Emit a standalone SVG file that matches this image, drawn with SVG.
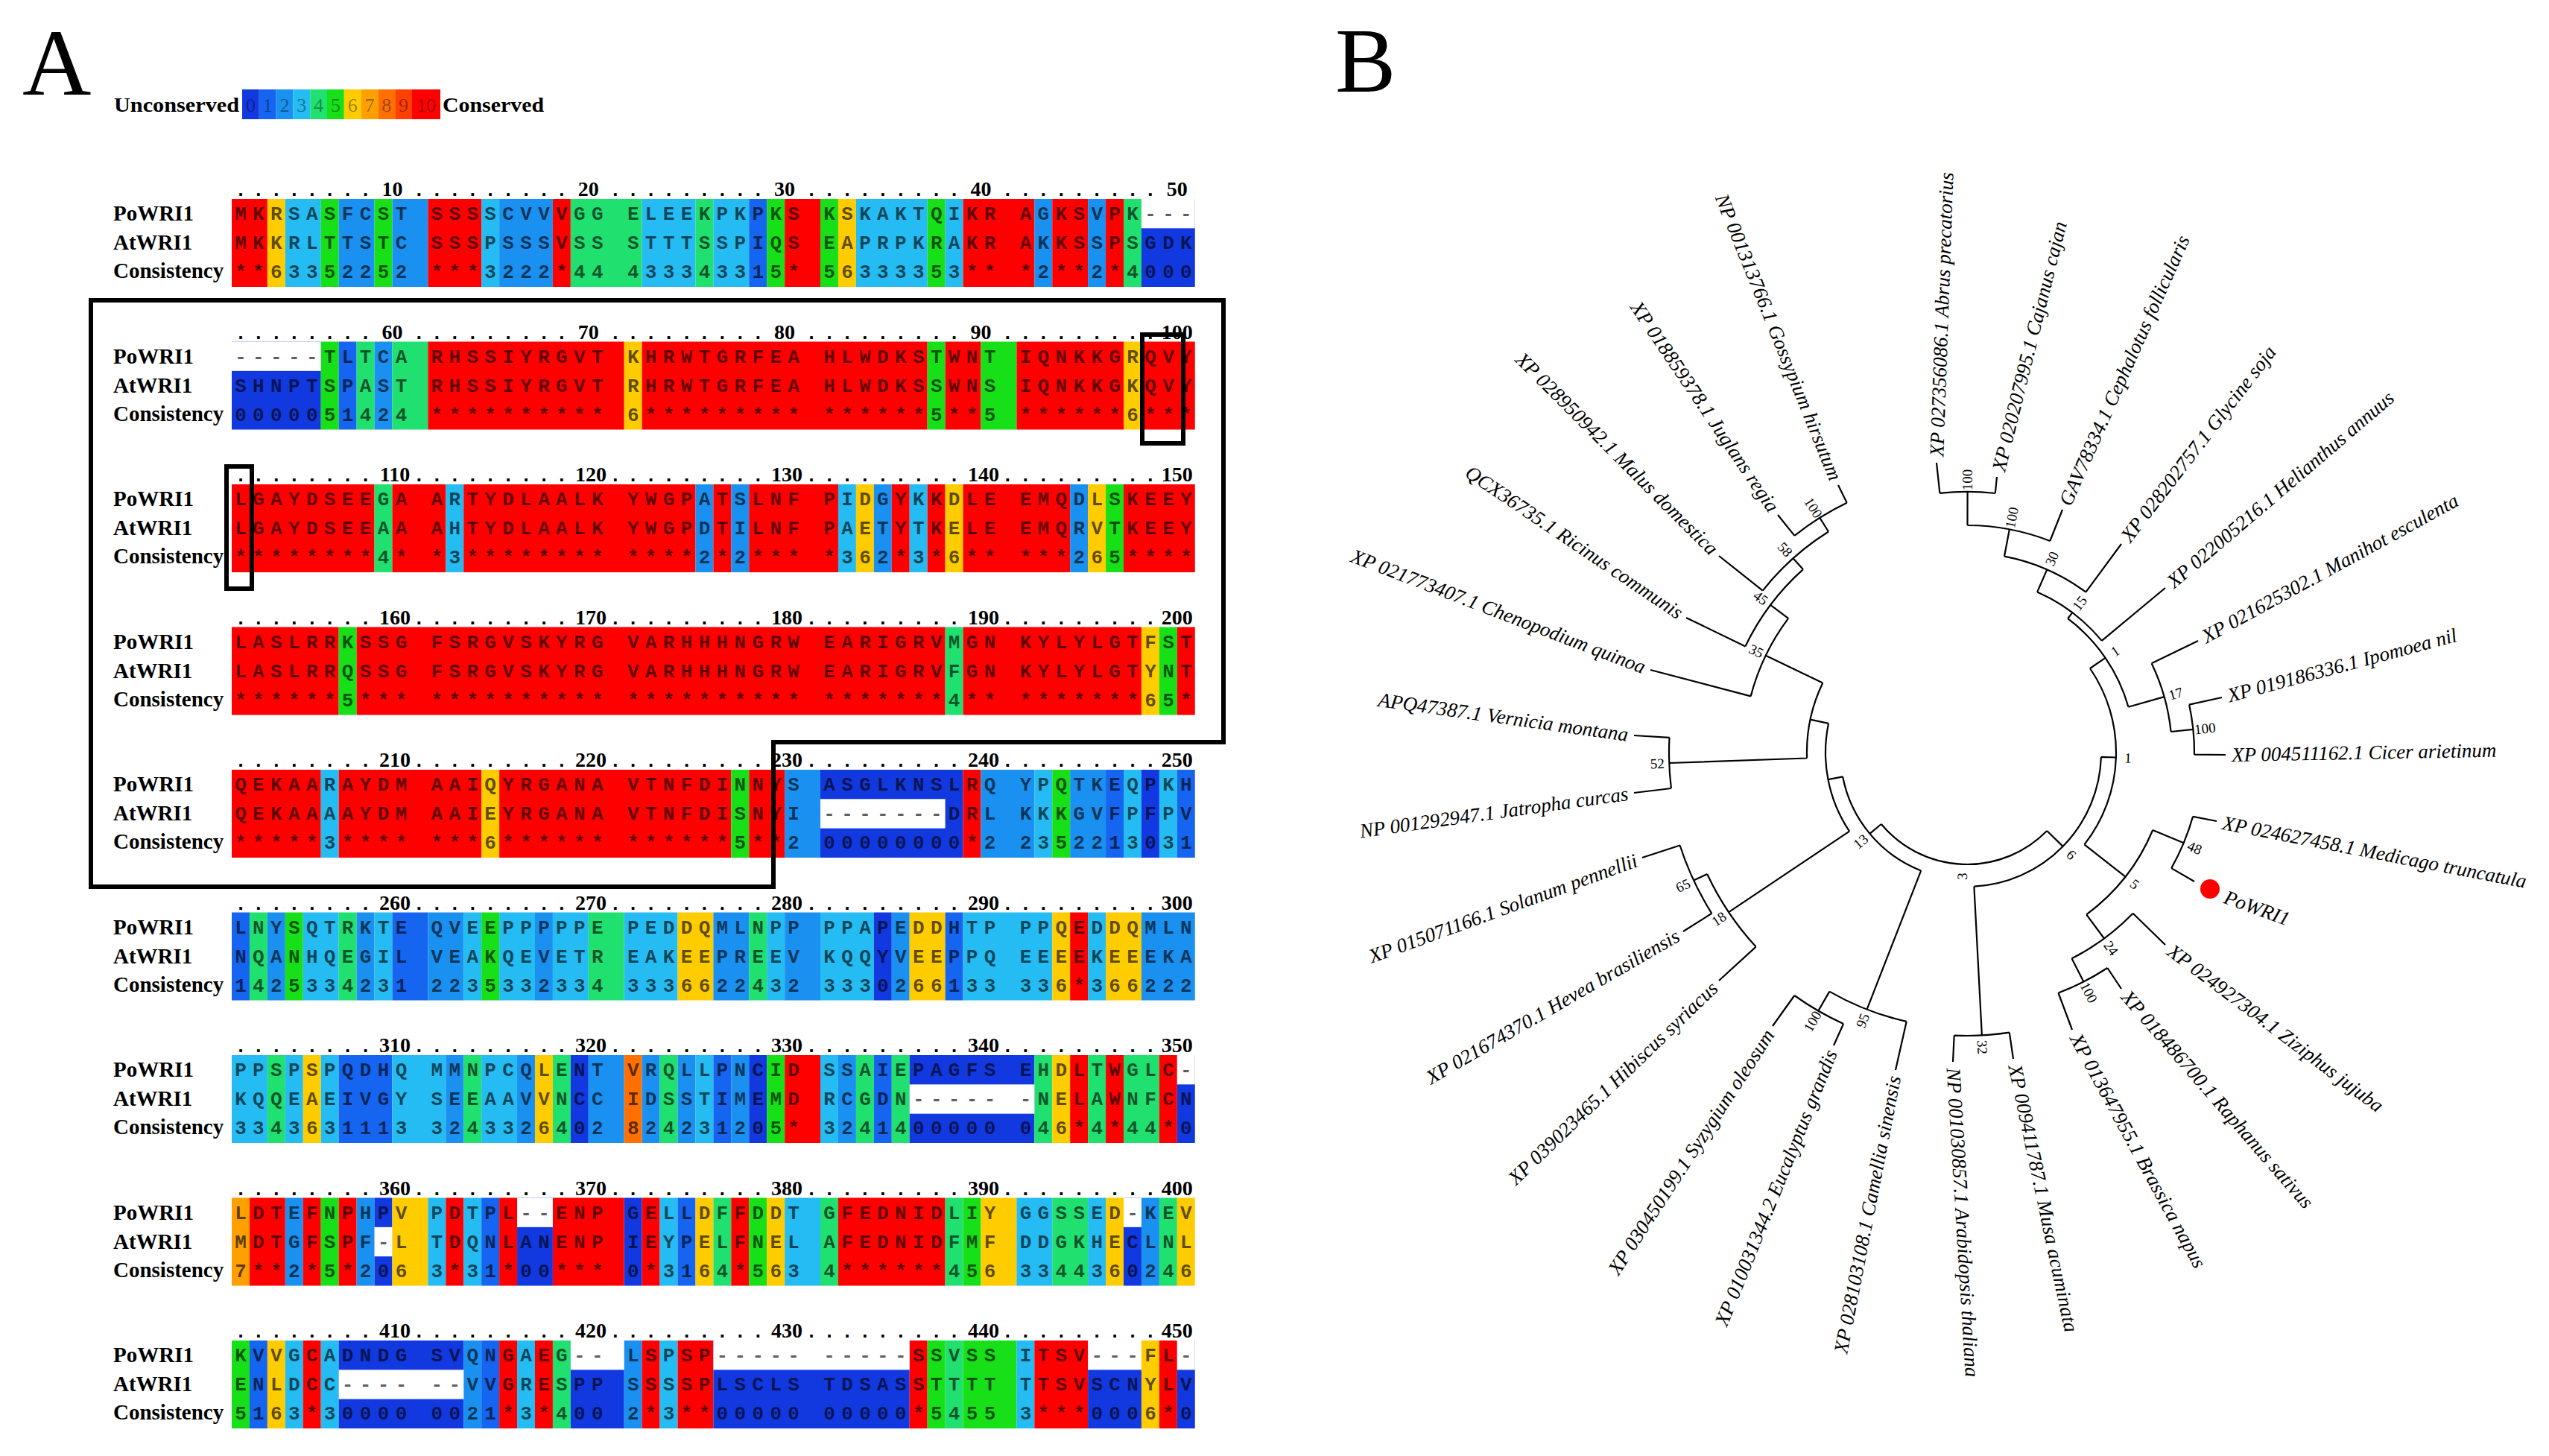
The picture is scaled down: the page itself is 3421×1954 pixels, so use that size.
<svg xmlns="http://www.w3.org/2000/svg" width="3421" height="1954" viewBox="0 0 3421 1954">
<style>
.c0{fill:#1238E0}.c1{fill:#1565F0}.c2{fill:#1A90F0}.c3{fill:#24BCF2}.c4{fill:#20E070}.c5{fill:#18E018}.c6{fill:#FFCC00}.c7{fill:#FFA000}.c8{fill:#FF7000}.c9{fill:#FF4000}.c10{fill:#FF0000}.w{fill:#FFFFFF}
.seq{font-family:"Liberation Mono",monospace;font-weight:bold;font-size:26px;letter-spacing:8.34px;fill:#000;fill-opacity:0.64}
.dots{font-family:"Liberation Mono",monospace;font-weight:bold;font-size:26px;letter-spacing:8.34px;fill:#000}
.lab{font-family:"Liberation Serif",serif;font-weight:bold;font-size:29px;fill:#000}
.num{font-family:"Liberation Serif",serif;font-weight:bold;font-size:28px;text-anchor:middle;fill:#000}
.big{font-family:"Liberation Serif",serif;fill:#000}
.leg{font-family:"Liberation Serif",serif;font-weight:bold;font-size:28px;fill:#000}
.legd{font-family:"Liberation Serif",serif;font-size:26px;text-anchor:middle;fill:#000;fill-opacity:0.4}
.tip{font-family:"Liberation Serif",serif;font-style:italic;font-size:27px;fill:#000}
.tl{text-anchor:end}
.sup{font-family:"Liberation Serif",serif;font-size:19px;text-anchor:middle;fill:#000}
.br{fill:none;stroke:#000;stroke-width:2.2}
.box{fill:none;stroke:#000;stroke-width:6}
</style>
<rect width="3421" height="1954" fill="#fff"/>

<g id="panel-label-A"><text class="big" x="30" y="127" font-size="128">A</text></g>
<g id="panel-label-B"><text class="big" x="1792" y="123" font-size="122">B</text></g>

<g id="legend">
<text class="leg" x="153" y="150" textLength="168" lengthAdjust="spacingAndGlyphs">Unconserved</text>
<rect class="c0" x="325" y="120" width="22.8" height="40"/>
<rect class="c1" x="347.8" y="120" width="22.8" height="40"/>
<rect class="c2" x="370.6" y="120" width="22.8" height="40"/>
<rect class="c3" x="393.4" y="120" width="22.8" height="40"/>
<rect class="c4" x="416.2" y="120" width="22.8" height="40"/>
<rect class="c5" x="439" y="120" width="22.8" height="40"/>
<rect class="c6" x="461.8" y="120" width="22.8" height="40"/>
<rect class="c7" x="484.6" y="120" width="22.8" height="40"/>
<rect class="c8" x="507.4" y="120" width="22.8" height="40"/>
<rect class="c9" x="530.2" y="120" width="22.8" height="40"/>
<rect class="c10" x="553" y="120" width="38" height="40"/>
<text class="legd" x="336.4" y="150">0</text><text class="legd" x="359.2" y="150">1</text><text class="legd" x="382" y="150">2</text><text class="legd" x="404.8" y="150">3</text><text class="legd" x="427.6" y="150">4</text><text class="legd" x="450.4" y="150">5</text><text class="legd" x="473.2" y="150">6</text><text class="legd" x="496" y="150">7</text><text class="legd" x="518.8" y="150">8</text><text class="legd" x="541.6" y="150">9</text><text class="legd" x="572" y="150">10</text>
<text class="leg" x="594" y="150" textLength="136" lengthAdjust="spacingAndGlyphs">Conserved</text>
</g>

<g id="block-1" transform="translate(0,267)">
<g transform="translate(311,0) scale(23.94,1)">
<rect class="c10" x="0" width="2" height="118"/><rect class="c6" x="2" width="1" height="118"/><rect class="c3" x="3" width="2" height="118"/><rect class="c5" x="5" width="1" height="118"/><rect class="c2" x="6" width="2" height="118"/><rect class="c5" x="8" width="1" height="118"/><rect class="c2" x="9" width="2" height="118"/><rect class="c10" x="11" width="3" height="118"/><rect class="c3" x="14" width="1" height="118"/><rect class="c2" x="15" width="3" height="118"/><rect class="c10" x="18" width="1" height="118"/><rect class="c4" x="19" width="4" height="118"/><rect class="c3" x="23" width="3" height="118"/><rect class="c4" x="26" width="1" height="118"/><rect class="c3" x="27" width="2" height="118"/><rect class="c1" x="29" width="1" height="118"/><rect class="c5" x="30" width="1" height="118"/><rect class="c10" x="31" width="2" height="118"/><rect class="c5" x="33" width="1" height="118"/><rect class="c6" x="34" width="1" height="118"/><rect class="c3" x="35" width="4" height="118"/><rect class="c5" x="39" width="1" height="118"/><rect class="c3" x="40" width="1" height="118"/><rect class="c10" x="41" width="4" height="118"/><rect class="c2" x="45" width="1" height="118"/><rect class="c10" x="46" width="2" height="118"/><rect class="c2" x="48" width="1" height="118"/><rect class="c10" x="49" width="1" height="118"/><rect class="c4" x="50" width="1" height="118"/><rect class="c0" x="51" width="3" height="118"/>
<rect class="w" x="51" y="0" width="3" height="39.33"/>
</g>
<text class="dots" x="315.17" y="-4">........</text><text class="dots" x="554.57" y="-4">.........</text><text class="dots" x="817.91" y="-4">.........</text><text class="dots" x="1081.25" y="-4">.........</text><text class="dots" x="1344.59" y="-4">.........</text>
<text class="num" x="526.5" y="-4">10</text><text class="num" x="789.8" y="-4">20</text><text class="num" x="1053.1" y="-4">30</text><text class="num" x="1316.5" y="-4">40</text><text class="num" x="1579.8" y="-4">50</text>
<text class="lab" x="152" y="29">PoWRI1</text><text class="lab" x="152" y="68">AtWRI1</text><text class="lab" x="152" y="106">Consistency</text>
<text class="seq" x="315.17" y="28">MKRSASFCST SSSSCVVVGG ELEEKPKPKS KSKAKTQIKR AGKSVPK---</text>
<text class="seq" x="315.17" y="67">MKKRLTTSTC SSSPSSSVSS STTTSSPIQS EAPRPKRAKR AKKSSPSGDK</text>
<text class="seq" x="315.17" y="106">**63352252 ***3222*44 433343315* 56333353** *2**2*4000</text>
</g>

<g id="block-2" transform="translate(0,458.5)">
<g transform="translate(311,0) scale(23.94,1)">
<rect class="c0" x="0" width="5" height="118"/><rect class="c5" x="5" width="1" height="118"/><rect class="c1" x="6" width="1" height="118"/><rect class="c4" x="7" width="1" height="118"/><rect class="c2" x="8" width="1" height="118"/><rect class="c4" x="9" width="2" height="118"/><rect class="c10" x="11" width="11" height="118"/><rect class="c6" x="22" width="1" height="118"/><rect class="c10" x="23" width="16" height="118"/><rect class="c5" x="39" width="1" height="118"/><rect class="c10" x="40" width="2" height="118"/><rect class="c5" x="42" width="2" height="118"/><rect class="c10" x="44" width="6" height="118"/><rect class="c6" x="50" width="1" height="118"/><rect class="c10" x="51" width="3" height="118"/>
<rect class="w" x="0" y="0" width="5" height="39.33"/>
</g>
<text class="dots" x="315.17" y="-4">........</text><text class="dots" x="554.57" y="-4">.........</text><text class="dots" x="817.91" y="-4">.........</text><text class="dots" x="1081.25" y="-4">.........</text><text class="dots" x="1344.59" y="-4">.........</text>
<text class="num" x="526.5" y="-4">60</text><text class="num" x="789.8" y="-4">70</text><text class="num" x="1053.1" y="-4">80</text><text class="num" x="1316.5" y="-4">90</text><text class="num" x="1579.8" y="-4">100</text>
<text class="lab" x="152" y="29">PoWRI1</text><text class="lab" x="152" y="68">AtWRI1</text><text class="lab" x="152" y="106">Consistency</text>
<text class="seq" x="315.17" y="28">-----TLTCA RHSSIYRGVT KHRWTGRFEA HLWDKSTWNT IQNKKGRQVY</text>
<text class="seq" x="315.17" y="67">SHNPTSPAST RHSSIYRGVT RHRWTGRFEA HLWDKSSWNS IQNKKGKQVY</text>
<text class="seq" x="315.17" y="106">0000051424 ********** 6********* ******5**5 ******6***</text>
</g>

<g id="block-3" transform="translate(0,650)">
<g transform="translate(311,0) scale(23.94,1)">
<rect class="c10" x="0" width="8" height="118"/><rect class="c4" x="8" width="1" height="118"/><rect class="c10" x="9" width="3" height="118"/><rect class="c3" x="12" width="1" height="118"/><rect class="c10" x="13" width="13" height="118"/><rect class="c2" x="26" width="1" height="118"/><rect class="c10" x="27" width="1" height="118"/><rect class="c2" x="28" width="1" height="118"/><rect class="c10" x="29" width="5" height="118"/><rect class="c3" x="34" width="1" height="118"/><rect class="c6" x="35" width="1" height="118"/><rect class="c2" x="36" width="1" height="118"/><rect class="c10" x="37" width="1" height="118"/><rect class="c3" x="38" width="1" height="118"/><rect class="c10" x="39" width="1" height="118"/><rect class="c6" x="40" width="1" height="118"/><rect class="c10" x="41" width="6" height="118"/><rect class="c2" x="47" width="1" height="118"/><rect class="c6" x="48" width="1" height="118"/><rect class="c5" x="49" width="1" height="118"/><rect class="c10" x="50" width="4" height="118"/>
</g>
<text class="dots" x="315.17" y="-4">........</text><text class="dots" x="554.57" y="-4">.........</text><text class="dots" x="817.91" y="-4">.........</text><text class="dots" x="1081.25" y="-4">.........</text><text class="dots" x="1344.59" y="-4">.........</text>
<text class="num" x="530" y="-4">110</text><text class="num" x="793" y="-4">120</text><text class="num" x="1056" y="-4">130</text><text class="num" x="1320" y="-4">140</text><text class="num" x="1579.8" y="-4">150</text>
<text class="lab" x="152" y="29">PoWRI1</text><text class="lab" x="152" y="68">AtWRI1</text><text class="lab" x="152" y="106">Consistency</text>
<text class="seq" x="315.17" y="28">LGAYDSEEGA ARTYDLAALK YWGPATSLNF PIDGYKKDLE EMQDLSKEEY</text>
<text class="seq" x="315.17" y="67">LGAYDSEEAA AHTYDLAALK YWGPDTILNF PAETYTKELE EMQRVTKEEY</text>
<text class="seq" x="315.17" y="106">********4* *3******** ****2*2*** *362*3*6** ***265****</text>
</g>

<g id="block-4" transform="translate(0,841.5)">
<g transform="translate(311,0) scale(23.94,1)">
<rect class="c10" x="0" width="6" height="118"/><rect class="c5" x="6" width="1" height="118"/><rect class="c10" x="7" width="33" height="118"/><rect class="c4" x="40" width="1" height="118"/><rect class="c10" x="41" width="10" height="118"/><rect class="c6" x="51" width="1" height="118"/><rect class="c5" x="52" width="1" height="118"/><rect class="c10" x="53" width="1" height="118"/>
</g>
<text class="dots" x="315.17" y="-4">........</text><text class="dots" x="554.57" y="-4">.........</text><text class="dots" x="817.91" y="-4">.........</text><text class="dots" x="1081.25" y="-4">.........</text><text class="dots" x="1344.59" y="-4">.........</text>
<text class="num" x="530" y="-4">160</text><text class="num" x="793" y="-4">170</text><text class="num" x="1056" y="-4">180</text><text class="num" x="1320" y="-4">190</text><text class="num" x="1579.8" y="-4">200</text>
<text class="lab" x="152" y="29">PoWRI1</text><text class="lab" x="152" y="68">AtWRI1</text><text class="lab" x="152" y="106">Consistency</text>
<text class="seq" x="315.17" y="28">LASLRRKSSG FSRGVSKYRG VARHHHNGRW EARIGRVMGN KYLYLGTFST</text>
<text class="seq" x="315.17" y="67">LASLRRQSSG FSRGVSKYRG VARHHHNGRW EARIGRVFGN KYLYLGTYNT</text>
<text class="seq" x="315.17" y="106">******5*** ********** ********** *******4** *******65*</text>
</g>

<g id="block-5" transform="translate(0,1033)">
<g transform="translate(311,0) scale(23.94,1)">
<rect class="c10" x="0" width="5" height="118"/><rect class="c3" x="5" width="1" height="118"/><rect class="c10" x="6" width="8" height="118"/><rect class="c6" x="14" width="1" height="118"/><rect class="c10" x="15" width="13" height="118"/><rect class="c5" x="28" width="1" height="118"/><rect class="c10" x="29" width="2" height="118"/><rect class="c2" x="31" width="2" height="118"/><rect class="c0" x="33" width="8" height="118"/><rect class="c10" x="41" width="1" height="118"/><rect class="c2" x="42" width="3" height="118"/><rect class="c3" x="45" width="1" height="118"/><rect class="c5" x="46" width="1" height="118"/><rect class="c2" x="47" width="2" height="118"/><rect class="c1" x="49" width="1" height="118"/><rect class="c3" x="50" width="1" height="118"/><rect class="c0" x="51" width="1" height="118"/><rect class="c3" x="52" width="1" height="118"/><rect class="c1" x="53" width="1" height="118"/>
<rect class="w" x="33" y="39.33" width="7" height="39.33"/>
</g>
<text class="dots" x="315.17" y="-4">........</text><text class="dots" x="554.57" y="-4">.........</text><text class="dots" x="817.91" y="-4">.........</text><text class="dots" x="1081.25" y="-4">.........</text><text class="dots" x="1344.59" y="-4">.........</text>
<text class="num" x="530" y="-4">210</text><text class="num" x="793" y="-4">220</text><text class="num" x="1056" y="-4">230</text><text class="num" x="1320" y="-4">240</text><text class="num" x="1579.8" y="-4">250</text>
<text class="lab" x="152" y="29">PoWRI1</text><text class="lab" x="152" y="68">AtWRI1</text><text class="lab" x="152" y="106">Consistency</text>
<text class="seq" x="315.17" y="28">QEKAARAYDM AAIQYRGANA VTNFDINNYS ASGLKNSLRQ YPQTKEQPKH</text>
<text class="seq" x="315.17" y="67">QEKAAAAYDM AAIEYRGANA VTNFDISNYI -------DRL KKKGVFPFPV</text>
<text class="seq" x="315.17" y="106">*****3**** ***6****** ******5**2 00000000*2 2352213031</text>
</g>

<g id="block-6" transform="translate(0,1224.5)">
<g transform="translate(311,0) scale(23.94,1)">
<rect class="c1" x="0" width="1" height="118"/><rect class="c4" x="1" width="1" height="118"/><rect class="c2" x="2" width="1" height="118"/><rect class="c5" x="3" width="1" height="118"/><rect class="c3" x="4" width="2" height="118"/><rect class="c4" x="6" width="1" height="118"/><rect class="c2" x="7" width="1" height="118"/><rect class="c3" x="8" width="1" height="118"/><rect class="c1" x="9" width="2" height="118"/><rect class="c2" x="11" width="2" height="118"/><rect class="c3" x="13" width="1" height="118"/><rect class="c5" x="14" width="1" height="118"/><rect class="c3" x="15" width="2" height="118"/><rect class="c2" x="17" width="1" height="118"/><rect class="c3" x="18" width="2" height="118"/><rect class="c4" x="20" width="2" height="118"/><rect class="c3" x="22" width="3" height="118"/><rect class="c6" x="25" width="2" height="118"/><rect class="c2" x="27" width="2" height="118"/><rect class="c4" x="29" width="1" height="118"/><rect class="c3" x="30" width="1" height="118"/><rect class="c2" x="31" width="2" height="118"/><rect class="c3" x="33" width="3" height="118"/><rect class="c0" x="36" width="1" height="118"/><rect class="c2" x="37" width="1" height="118"/><rect class="c6" x="38" width="2" height="118"/><rect class="c1" x="40" width="1" height="118"/><rect class="c3" x="41" width="5" height="118"/><rect class="c6" x="46" width="1" height="118"/><rect class="c10" x="47" width="1" height="118"/><rect class="c3" x="48" width="1" height="118"/><rect class="c6" x="49" width="2" height="118"/><rect class="c2" x="51" width="3" height="118"/>
</g>
<text class="dots" x="315.17" y="-4">........</text><text class="dots" x="554.57" y="-4">.........</text><text class="dots" x="817.91" y="-4">.........</text><text class="dots" x="1081.25" y="-4">.........</text><text class="dots" x="1344.59" y="-4">.........</text>
<text class="num" x="530" y="-4">260</text><text class="num" x="793" y="-4">270</text><text class="num" x="1056" y="-4">280</text><text class="num" x="1320" y="-4">290</text><text class="num" x="1579.8" y="-4">300</text>
<text class="lab" x="152" y="29">PoWRI1</text><text class="lab" x="152" y="68">AtWRI1</text><text class="lab" x="152" y="106">Consistency</text>
<text class="seq" x="315.17" y="28">LNYSQTRKTE QVEEPPPPPE PEDDQMLNPP PPAPEDDHTP PPQEDDQMLN</text>
<text class="seq" x="315.17" y="67">NQANHQEGIL VEAKQEVETR EAKEEPREEV KQQYVEEPPQ EEEEKEEEKA</text>
<text class="seq" x="315.17" y="106">1425334231 2235332334 3336622432 3330266133 336*366222</text>
</g>

<g id="block-7" transform="translate(0,1416)">
<g transform="translate(311,0) scale(23.94,1)">
<rect class="c3" x="0" width="2" height="118"/><rect class="c4" x="2" width="1" height="118"/><rect class="c3" x="3" width="1" height="118"/><rect class="c6" x="4" width="1" height="118"/><rect class="c3" x="5" width="1" height="118"/><rect class="c1" x="6" width="3" height="118"/><rect class="c3" x="9" width="3" height="118"/><rect class="c2" x="12" width="1" height="118"/><rect class="c4" x="13" width="1" height="118"/><rect class="c3" x="14" width="2" height="118"/><rect class="c2" x="16" width="1" height="118"/><rect class="c6" x="17" width="1" height="118"/><rect class="c4" x="18" width="1" height="118"/><rect class="c0" x="19" width="1" height="118"/><rect class="c2" x="20" width="2" height="118"/><rect class="c8" x="22" width="1" height="118"/><rect class="c2" x="23" width="1" height="118"/><rect class="c4" x="24" width="1" height="118"/><rect class="c2" x="25" width="1" height="118"/><rect class="c3" x="26" width="1" height="118"/><rect class="c1" x="27" width="1" height="118"/><rect class="c2" x="28" width="1" height="118"/><rect class="c0" x="29" width="1" height="118"/><rect class="c5" x="30" width="1" height="118"/><rect class="c10" x="31" width="2" height="118"/><rect class="c3" x="33" width="1" height="118"/><rect class="c2" x="34" width="1" height="118"/><rect class="c4" x="35" width="1" height="118"/><rect class="c1" x="36" width="1" height="118"/><rect class="c4" x="37" width="1" height="118"/><rect class="c0" x="38" width="7" height="118"/><rect class="c4" x="45" width="1" height="118"/><rect class="c6" x="46" width="1" height="118"/><rect class="c10" x="47" width="1" height="118"/><rect class="c4" x="48" width="1" height="118"/><rect class="c10" x="49" width="1" height="118"/><rect class="c4" x="50" width="2" height="118"/><rect class="c10" x="52" width="1" height="118"/><rect class="c0" x="53" width="1" height="118"/>
<rect class="w" x="38" y="39.33" width="7" height="39.33"/><rect class="w" x="53" y="0" width="1" height="39.33"/>
</g>
<text class="dots" x="315.17" y="-4">........</text><text class="dots" x="554.57" y="-4">.........</text><text class="dots" x="817.91" y="-4">.........</text><text class="dots" x="1081.25" y="-4">.........</text><text class="dots" x="1344.59" y="-4">.........</text>
<text class="num" x="530" y="-4">310</text><text class="num" x="793" y="-4">320</text><text class="num" x="1056" y="-4">330</text><text class="num" x="1320" y="-4">340</text><text class="num" x="1579.8" y="-4">350</text>
<text class="lab" x="152" y="29">PoWRI1</text><text class="lab" x="152" y="68">AtWRI1</text><text class="lab" x="152" y="106">Consistency</text>
<text class="seq" x="315.17" y="28">PPSPSPQDHQ MMNPCQLENT VRQLLPNCID SSAIEPAGFS EHDLTWGLC-</text>
<text class="seq" x="315.17" y="67">KQQEAEIVGY SEEAAVVNCC IDSSTIMEMD RCGDN----- -NELAWNFCN</text>
<text class="seq" x="315.17" y="106">3343631113 3243326402 824231205* 3241400000 046*4*44*0</text>
</g>

<g id="block-8" transform="translate(0,1607.5)">
<g transform="translate(311,0) scale(23.94,1)">
<rect class="c7" x="0" width="1" height="118"/><rect class="c10" x="1" width="2" height="118"/><rect class="c2" x="3" width="1" height="118"/><rect class="c10" x="4" width="1" height="118"/><rect class="c5" x="5" width="1" height="118"/><rect class="c10" x="6" width="1" height="118"/><rect class="c2" x="7" width="1" height="118"/><rect class="c0" x="8" width="1" height="118"/><rect class="c6" x="9" width="2" height="118"/><rect class="c3" x="11" width="1" height="118"/><rect class="c10" x="12" width="1" height="118"/><rect class="c3" x="13" width="1" height="118"/><rect class="c1" x="14" width="1" height="118"/><rect class="c10" x="15" width="1" height="118"/><rect class="c0" x="16" width="2" height="118"/><rect class="c10" x="18" width="4" height="118"/><rect class="c0" x="22" width="1" height="118"/><rect class="c10" x="23" width="1" height="118"/><rect class="c3" x="24" width="1" height="118"/><rect class="c1" x="25" width="1" height="118"/><rect class="c6" x="26" width="1" height="118"/><rect class="c4" x="27" width="1" height="118"/><rect class="c10" x="28" width="1" height="118"/><rect class="c5" x="29" width="1" height="118"/><rect class="c6" x="30" width="1" height="118"/><rect class="c3" x="31" width="2" height="118"/><rect class="c4" x="33" width="1" height="118"/><rect class="c10" x="34" width="6" height="118"/><rect class="c4" x="40" width="1" height="118"/><rect class="c5" x="41" width="1" height="118"/><rect class="c6" x="42" width="2" height="118"/><rect class="c3" x="44" width="2" height="118"/><rect class="c4" x="46" width="2" height="118"/><rect class="c3" x="48" width="1" height="118"/><rect class="c6" x="49" width="1" height="118"/><rect class="c0" x="50" width="1" height="118"/><rect class="c2" x="51" width="1" height="118"/><rect class="c4" x="52" width="1" height="118"/><rect class="c6" x="53" width="1" height="118"/>
<rect class="w" x="8" y="39.33" width="1" height="39.33"/><rect class="w" x="16" y="0" width="2" height="39.33"/><rect class="w" x="50" y="0" width="1" height="39.33"/>
</g>
<text class="dots" x="315.17" y="-4">........</text><text class="dots" x="554.57" y="-4">.........</text><text class="dots" x="817.91" y="-4">.........</text><text class="dots" x="1081.25" y="-4">.........</text><text class="dots" x="1344.59" y="-4">.........</text>
<text class="num" x="530" y="-4">360</text><text class="num" x="793" y="-4">370</text><text class="num" x="1056" y="-4">380</text><text class="num" x="1320" y="-4">390</text><text class="num" x="1579.8" y="-4">400</text>
<text class="lab" x="152" y="29">PoWRI1</text><text class="lab" x="152" y="68">AtWRI1</text><text class="lab" x="152" y="106">Consistency</text>
<text class="seq" x="315.17" y="28">LDTEFNPHPV PDTPL--ENP GELLDFFDDT GFEDNIDLIY GGSSED-KEV</text>
<text class="seq" x="315.17" y="67">MDTGFSPF-L TDQNLANENP IEYPELFNEL AFEDNIDFMF DDGKHECLNL</text>
<text class="seq" x="315.17" y="106">7**2*5*206 3*31*00*** 0*3164*563 4******456 3344360246</text>
</g>

<g id="block-9" transform="translate(0,1799)">
<g transform="translate(311,0) scale(23.94,1)">
<rect class="c5" x="0" width="1" height="118"/><rect class="c1" x="1" width="1" height="118"/><rect class="c6" x="2" width="1" height="118"/><rect class="c3" x="3" width="1" height="118"/><rect class="c10" x="4" width="1" height="118"/><rect class="c3" x="5" width="1" height="118"/><rect class="c0" x="6" width="7" height="118"/><rect class="c2" x="13" width="1" height="118"/><rect class="c1" x="14" width="1" height="118"/><rect class="c10" x="15" width="1" height="118"/><rect class="c3" x="16" width="1" height="118"/><rect class="c10" x="17" width="1" height="118"/><rect class="c4" x="18" width="1" height="118"/><rect class="c0" x="19" width="3" height="118"/><rect class="c2" x="22" width="1" height="118"/><rect class="c10" x="23" width="1" height="118"/><rect class="c3" x="24" width="1" height="118"/><rect class="c10" x="25" width="2" height="118"/><rect class="c0" x="27" width="11" height="118"/><rect class="c10" x="38" width="1" height="118"/><rect class="c5" x="39" width="1" height="118"/><rect class="c4" x="40" width="1" height="118"/><rect class="c5" x="41" width="3" height="118"/><rect class="c3" x="44" width="1" height="118"/><rect class="c10" x="45" width="3" height="118"/><rect class="c0" x="48" width="3" height="118"/><rect class="c6" x="51" width="1" height="118"/><rect class="c10" x="52" width="1" height="118"/><rect class="c0" x="53" width="1" height="118"/>
<rect class="w" x="6" y="39.33" width="7" height="39.33"/><rect class="w" x="19" y="0" width="3" height="39.33"/><rect class="w" x="27" y="0" width="11" height="39.33"/><rect class="w" x="48" y="0" width="3" height="39.33"/><rect class="w" x="53" y="0" width="1" height="39.33"/>
</g>
<text class="dots" x="315.17" y="-4">........</text><text class="dots" x="554.57" y="-4">.........</text><text class="dots" x="817.91" y="-4">.........</text><text class="dots" x="1081.25" y="-4">.........</text><text class="dots" x="1344.59" y="-4">.........</text>
<text class="num" x="530" y="-4">410</text><text class="num" x="793" y="-4">420</text><text class="num" x="1056" y="-4">430</text><text class="num" x="1320" y="-4">440</text><text class="num" x="1579.8" y="-4">450</text>
<text class="lab" x="152" y="29">PoWRI1</text><text class="lab" x="152" y="68">AtWRI1</text><text class="lab" x="152" y="106">Consistency</text>
<text class="seq" x="315.17" y="28">KVVGCADNDG SVQNGAEG-- LSPSP----- -----SSVSS ITSV---FL-</text>
<text class="seq" x="315.17" y="67">ENLDCC---- --VVGRESPP SSSSPLSCLS TDSASSTTTT TTSVSCNYLV</text>
<text class="seq" x="315.17" y="106">5163*30000 0021*3*400 2*3**00000 00000*5455 3***0006*0</text>
</g>

<g id="highlight-boxes">
<path class="box" d="M122,403 H1642 V996 H1038 V1190 H122 Z"/>
<rect class="box" x="1533" y="449" width="55" height="146"/>
<rect class="box" x="304" y="626" width="34" height="164"/>
</g>

<g id="tree-branches" class="br">
<path d="M2603.4,661.9 A350,350 0 0 1 2677.8,662.0 M2603.4,661.9 L2599,621 M2677.8,662.0 L2680,640"/>
<path d="M2640.5,705.0 A305,305 0 0 1 2751.3,726.0 M2640.5,705.0 L2640.6,660.0 M2751.3,726.0 L2768,684"/>
<path d="M2690.0,746.7 A268,268 0 0 1 2799.4,794.6 M2690.0,746.7 L2696.9,710.3 M2799.4,794.6 L2847,730"/>
<path d="M2734.1,794.6 A235,235 0 0 1 2820.8,859.9 M2734.1,794.6 L2747.3,764.4 M2820.8,859.9 L2906,789"/>
<path d="M2938.1,945.6 A305,305 0 0 1 2945.0,1012.7 M2938.1,945.6 L2982,936 M2945.0,1012.7 L2987,1013"/>
<path d="M2887.6,890.3 A275,275 0 0 1 2913.6,982.0 M2887.6,890.3 L2950,860 M2913.6,982.0 L2943.4,978.9"/>
<path d="M2775.2,830.2 A225,225 0 0 1 2856.5,948.7 M2775.2,830.2 L2781.3,822.2 M2856.5,948.7 L2904.6,935.1"/>
<path d="M2943.1,1095.8 A315,315 0 0 1 2914.2,1165.1 M2943.1,1095.8 L2975,1102 M2914.2,1165.1 L2945,1183"/>
<path d="M2828.4,1299.0 A345,345 0 0 1 2762.5,1332.5 M2828.4,1299.0 L2847,1327 M2762.5,1332.5 L2781,1382"/>
<path d="M2862.6,1225.7 A310,310 0 0 1 2780.5,1286.3 M2862.6,1225.7 L2906,1268 M2780.5,1286.3 L2796.4,1317.5"/>
<path d="M2889.2,1114.0 A270,270 0 0 1 2800.2,1227.3 M2889.2,1114.0 L2930.7,1131.3 M2800.2,1227.3 L2824.0,1259.5"/>
<path d="M2805.0,897.0 A200,200 0 0 1 2797.4,1133.4 M2805.0,897.0 L2825.6,882.9 M2797.4,1133.4 L2852.5,1176.6"/>
<path d="M2696.8,1385.7 A380,380 0 0 1 2622.7,1389.6 M2696.8,1385.7 L2702,1421 M2622.7,1389.6 L2621,1425"/>
<path d="M2819.9,1015.8 A180,180 0 0 1 2649.4,1189.7 M2819.9,1015.8 L2839.9,1016.5 M2649.4,1189.7 L2659.9,1389.5"/>
<path d="M2474.1,1374.0 A400,400 0 0 1 2408.3,1336.0 M2474.1,1374.0 L2461,1403 M2408.3,1336.0 L2379,1377"/>
<path d="M2558.7,1370.9 A370,370 0 0 1 2455.3,1330.6 M2558.7,1370.9 L2544,1436 M2455.3,1330.6 L2440.3,1356.6"/>
<path d="M2297.3,1225.8 A405,405 0 0 1 2254.6,1134.5 M2297.3,1225.8 L2259,1250 M2254.6,1134.5 L2204,1151"/>
<path d="M2356.6,1270.6 A385,385 0 0 1 2291.2,1173.0 M2356.6,1270.6 L2307,1316 M2291.2,1173.0 L2273.1,1181.5"/>
<path d="M2242.9,1058.0 A400,400 0 0 1 2240.5,989.8 M2242.9,1058.0 L2193,1064 M2240.5,989.8 L2193,987"/>
<path d="M2408.4,718.9 A372,372 0 0 1 2478.7,674.8 M2408.4,718.9 L2386,691 M2478.7,674.8 L2467,651"/>
<path d="M2365.7,792.6 A350,350 0 0 1 2454.0,713.5 M2365.7,792.6 L2307,746 M2454.0,713.5 L2442.3,694.9"/>
<path d="M2342.4,867.4 A330,330 0 0 1 2419.9,764.1 M2342.4,867.4 L2263,829 M2419.9,764.1 L2406.5,749.2"/>
<path d="M2349.7,934.4 A300,300 0 0 1 2400.1,829.9 M2349.7,934.4 L2215,899 M2400.1,829.9 L2376.1,811.9"/>
<path d="M2425.1,1017.5 A215,215 0 0 1 2446.3,916.6 M2425.1,1017.5 L2240.2,1024.0 M2446.3,916.6 L2369.8,879.7"/>
<path d="M2482.1,1115.7 A190,190 0 0 1 2454.1,970.8 M2482.1,1115.7 L2320.1,1224.2 M2454.1,970.8 L2429.6,965.7"/>
<path d="M2578.2,1168.4 A170,170 0 0 1 2473.1,1042.3 M2578.2,1168.4 L2505.6,1354.7 M2473.1,1042.3 L2453.5,1046.1"/>
<path d="M2747.2,1115.0 A150,150 0 0 1 2524.8,1106.0 M2747.2,1115.0 L2768.6,1135.9 M2524.8,1106.0 L2509.4,1118.8"/>
</g>

<g id="support-values">
<text class="sup" transform="translate(2640.6,644) rotate(-90)" dy=".35em">100</text>
<text class="sup" transform="translate(2699.9,694.6) rotate(-79)" dy=".35em">100</text>
<text class="sup" transform="translate(2753.7,749.7) rotate(-66)" dy=".35em">30</text>
<text class="sup" transform="translate(2790.9,809.4) rotate(-53)" dy=".35em">15</text>
<text class="sup" transform="translate(2838.8,873.8) rotate(-34)" dy=".35em">1</text>
<text class="sup" transform="translate(2920.0,930.8) rotate(-16)" dy=".35em">17</text>
<text class="sup" transform="translate(2959.3,977.3) rotate(-6)" dy=".35em">100</text>
<text class="sup" transform="translate(2855.9,1017.0) rotate(2)" dy=".35em">1</text>
<text class="sup" transform="translate(2945.5,1137.5) rotate(23)" dy=".35em">48</text>
<text class="sup" transform="translate(2865.1,1186.5) rotate(38)" dy=".35em">5</text>
<text class="sup" transform="translate(2833.4,1272.4) rotate(54)" dy=".35em">24</text>
<text class="sup" transform="translate(2803.6,1331.8) rotate(63)" dy=".35em">100</text>
<text class="sup" transform="translate(2780.0,1147.1) rotate(44)" dy=".35em">6</text>
<text class="sup" transform="translate(2660.7,1405.5) rotate(87)" dy=".35em">32</text>
<text class="sup" transform="translate(2633.3,1175.9) rotate(-88)" dy=".35em">3</text>
<text class="sup" transform="translate(2497.1,1129.1) rotate(-40)" dy=".35em">13</text>
<text class="sup" transform="translate(2499.8,1369.6) rotate(-69)" dy=".35em">95</text>
<text class="sup" transform="translate(2432.3,1370.5) rotate(-60)" dy=".35em">100</text>
<text class="sup" transform="translate(2306.8,1233.1) rotate(-34)" dy=".35em">18</text>
<text class="sup" transform="translate(2258.6,1188.3) rotate(-25)" dy=".35em">65</text>
<text class="sup" transform="translate(2224.2,1024.5) rotate(-2)" dy=".35em">52</text>
<text class="sup" transform="translate(2357.2,873.6) rotate(26)" dy=".35em">35</text>
<text class="sup" transform="translate(2363.3,802.3) rotate(37)" dy=".35em">45</text>
<text class="sup" transform="translate(2395.9,737.3) rotate(48)" dy=".35em">58</text>
<text class="sup" transform="translate(2433.8,681.3) rotate(58)" dy=".35em">100</text>
</g>

<g id="tip-abrus"><text class="tip" transform="translate(2599.3,613) rotate(-88)" dy=".33em">XP 027356086.1 Abrus precatorius</text></g>
<g id="tip-cajanus"><text class="tip" transform="translate(2682,632) rotate(-76)" dy=".33em">XP 020207995.1 Cajanus cajan</text></g>
<g id="tip-cephalotus"><text class="tip" transform="translate(2771,677) rotate(-66)" dy=".33em">GAV78334.1 Cephalotus follicularis</text></g>
<g id="tip-glycine"><text class="tip" transform="translate(2852,724) rotate(-52.5)" dy=".33em">XP 028202757.1 Glycine soja</text></g>
<g id="tip-helianthus"><text class="tip" transform="translate(2912,784) rotate(-40.5)" dy=".33em">XP 022005216.1 Helianthus annuus</text></g>
<g id="tip-manihot"><text class="tip" transform="translate(2957,856) rotate(-28.7)" dy=".33em">XP 021625302.1 Manihot esculenta</text></g>
<g id="tip-ipomoea"><text class="tip" transform="translate(2990,934) rotate(-15)" dy=".33em">XP 019186336.1 Ipomoea nil</text></g>
<g id="tip-cicer"><text class="tip" transform="translate(2995,1013) rotate(-1)" dy=".33em">XP 004511162.1 Cicer arietinum</text></g>
<g id="tip-medicago"><text class="tip" transform="translate(2983,1104) rotate(11)" dy=".33em">XP 024627458.1 Medicago truncatula</text></g>
<g id="tip-powri1"><circle cx="2966" cy="1193" r="13" fill="#FF0000"/><text class="tip" transform="translate(2986,1203) rotate(20)" dy=".33em">PoWRI1</text></g>
<g id="tip-ziziphus"><text class="tip" transform="translate(2912,1273) rotate(37)" dy=".33em">XP 024927304.1 Ziziphus jujuba</text></g>
<g id="tip-raphanus"><text class="tip" transform="translate(2852,1333) rotate(49)" dy=".33em">XP 018486700.1 Raphanus sativus</text></g>
<g id="tip-brassica"><text class="tip" transform="translate(2785,1389) rotate(61.5)" dy=".33em">XP 013647955.1 Brassica napus</text></g>
<g id="tip-musa"><text class="tip" transform="translate(2704,1429) rotate(78)" dy=".33em">XP 009411787.1 Musa acuminata</text></g>
<g id="tip-arabidopsis"><text class="tip" transform="translate(2621.5,1433) rotate(86.5)" dy=".33em">NP 001030857.1 Arabidopsis thaliana</text></g>
<g id="tip-camellia"><text class="tip tl" transform="translate(2542.5,1444) rotate(-79)" dy=".33em">XP 028103108.1 Camellia sinensis</text></g>
<g id="tip-eucalyptus"><text class="tip tl" transform="translate(2458,1410) rotate(-68)" dy=".33em">XP 010031344.2 Eucalyptus grandis</text></g>
<g id="tip-syzygium"><text class="tip tl" transform="translate(2375,1384) rotate(-57)" dy=".33em">XP 030450199.1 Syzygium oleosum</text></g>
<g id="tip-hibiscus"><text class="tip tl" transform="translate(2301,1322) rotate(-44)" dy=".33em">XP 039023465.1 Hibiscus syriacus</text></g>
<g id="tip-hevea"><text class="tip tl" transform="translate(2252,1254) rotate(-30)" dy=".33em">XP 021674370.1 Hevea brasiliensis</text></g>
<g id="tip-solanum"><text class="tip tl" transform="translate(2196.5,1154) rotate(-20)" dy=".33em">XP 015071166.1 Solanum pennellii</text></g>
<g id="tip-jatropha"><text class="tip tl" transform="translate(2185,1065) rotate(-8)" dy=".33em">NP 001292947.1 Jatropha curcas</text></g>
<g id="tip-vernicia"><text class="tip tl" transform="translate(2185,986) rotate(8)" dy=".33em">APQ47387.1 Vernicia montana</text></g>
<g id="tip-chenopodium"><text class="tip tl" transform="translate(2207.5,896) rotate(21)" dy=".33em">XP 021773407.1 Chenopodium quinoa</text></g>
<g id="tip-ricinus"><text class="tip tl" transform="translate(2256,824.5) rotate(34)" dy=".33em">QCX36735.1 Ricinus communis</text></g>
<g id="tip-malus"><text class="tip tl" transform="translate(2301.3,740.3) rotate(45)" dy=".33em">XP 028950942.1 Malus domestica</text></g>
<g id="tip-juglans"><text class="tip tl" transform="translate(2381.5,684.4) rotate(56)" dy=".33em">XP 018859378.1 Juglans regia</text></g>
<g id="tip-gossypium"><text class="tip tl" transform="translate(2464,643.6) rotate(68)" dy=".33em">NP 001313766.1 Gossypium hirsutum</text></g>
</svg>
